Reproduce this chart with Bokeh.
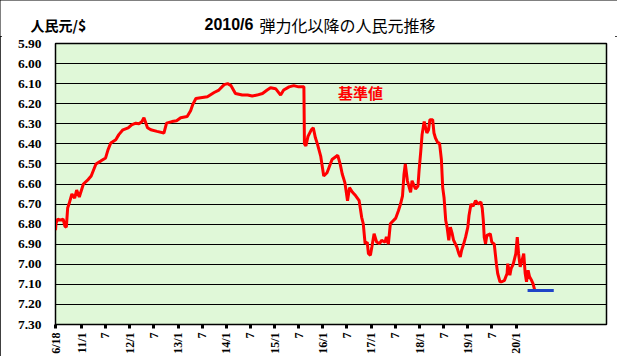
import pandas as pd
from math import pi
from bokeh.plotting import figure
from bokeh.layouts import column
from bokeh.models import Range1d, FixedTicker, Label
from bokeh.embed import file_html
from bokeh.resources import INLINE

# ---- data ----
dates = [
    "2010-06-18", "2010-06-22", "2010-07-05", "2010-07-25", "2010-08-15", "2010-08-28",
    "2010-09-08", "2010-09-18", "2010-09-28", "2010-10-20", "2010-11-10", "2010-11-25",
    "2010-12-15", "2011-01-15", "2011-02-20", "2011-03-15", "2011-04-20", "2011-05-26",
    "2011-07-02", "2011-07-20", "2011-08-10", "2011-09-17", "2011-10-10", "2011-11-10",
    "2011-12-20", "2012-01-15", "2012-02-15", "2012-03-10", "2012-04-01", "2012-04-17",
    "2012-05-14", "2012-06-08", "2012-07-25", "2012-09-15", "2012-10-05", "2012-11-15",
    "2012-12-20", "2013-01-20", "2013-03-10", "2013-04-05", "2013-04-20", "2013-05-15",
    "2013-06-20", "2013-08-10", "2013-09-30", "2013-11-05", "2013-12-15", "2014-01-10",
    "2014-02-05", "2014-03-10", "2014-05-01", "2014-06-10", "2014-07-15", "2014-08-20",
    "2014-10-01", "2014-11-05", "2014-12-01", "2015-01-08", "2015-02-15", "2015-03-10",
    "2015-04-20", "2015-05-25", "2015-07-01", "2015-08-10", "2015-08-14", "2015-08-25",
    "2015-09-10", "2015-10-05", "2015-10-20", "2015-11-05", "2015-11-20", "2015-12-15",
    "2016-01-07", "2016-02-01", "2016-03-10", "2016-04-22", "2016-05-10", "2016-05-26",
    "2016-06-15", "2016-07-05", "2016-07-20", "2016-08-10", "2016-09-05", "2016-10-01",
    "2016-10-20", "2016-11-01", "2016-11-15", "2016-12-01", "2016-12-10", "2016-12-25",
    "2017-01-05", "2017-01-22", "2017-02-10", "2017-03-05", "2017-03-20", "2017-04-15",
    "2017-04-25", "2017-05-10", "2017-05-25", "2017-07-05", "2017-07-25", "2017-08-10",
    "2017-08-25", "2017-09-05", "2017-09-15", "2017-10-01", "2017-10-25", "2017-11-05",
    "2017-12-01", "2017-12-20", "2017-12-28", "2018-01-10", "2018-01-20", "2018-02-05",
    "2018-02-25", "2018-03-10", "2018-03-20", "2018-04-10", "2018-04-20", "2018-05-01",
    "2018-05-20", "2018-06-01", "2018-06-15", "2018-06-25", "2018-07-05", "2018-07-18",
    "2018-07-28", "2018-08-10", "2018-08-22", "2018-09-05", "2018-09-15", "2018-10-10",
    "2018-10-25", "2018-11-05", "2018-11-15", "2018-12-01", "2018-12-15", "2019-01-01",
    "2019-01-10", "2019-01-25", "2019-02-10", "2019-03-01", "2019-03-20", "2019-04-10",
    "2019-04-20", "2019-04-28", "2019-05-05", "2019-05-15", "2019-05-25", "2019-06-20",
    "2019-07-01", "2019-07-20", "2019-08-05", "2019-08-15", "2019-09-01", "2019-09-15",
    "2019-10-05", "2019-10-25", "2019-10-30", "2019-11-15", "2019-11-25", "2019-12-10",
    "2019-12-30", "2020-01-10", "2020-01-20", "2020-02-01", "2020-02-15", "2020-02-28",
    "2020-03-10", "2020-03-20", "2020-04-01", "2020-04-12", "2020-04-27", "2020-05-08",
    "2020-05-21",
]
rates = [
    6.830, 6.795, 6.775, 6.780, 6.775, 6.810,
    6.815, 6.720, 6.700, 6.650, 6.670, 6.630,
    6.665, 6.600, 6.578, 6.560, 6.500, 6.486,
    6.470, 6.430, 6.396, 6.380, 6.354, 6.330,
    6.320, 6.305, 6.297, 6.300, 6.290, 6.270,
    6.320, 6.330, 6.338, 6.346, 6.297, 6.289,
    6.285, 6.270, 6.264, 6.235, 6.206, 6.174,
    6.170, 6.165, 6.144, 6.132, 6.105, 6.100,
    6.110, 6.149, 6.157, 6.157, 6.162, 6.157,
    6.149, 6.132, 6.120, 6.125, 6.157, 6.132,
    6.116, 6.110, 6.116, 6.116, 6.400, 6.410,
    6.363, 6.330, 6.320, 6.370, 6.400, 6.461,
    6.560, 6.544, 6.478, 6.457, 6.500, 6.550,
    6.593, 6.683, 6.618, 6.640, 6.659, 6.683,
    6.766, 6.798, 6.897, 6.890, 6.947, 6.955,
    6.914, 6.848, 6.889, 6.897, 6.880, 6.890,
    6.864, 6.900, 6.798, 6.770, 6.733, 6.700,
    6.659, 6.552, 6.500, 6.584, 6.642, 6.584,
    6.625, 6.610, 6.535, 6.437, 6.354, 6.289,
    6.346, 6.330, 6.280, 6.280, 6.346, 6.371,
    6.396, 6.396, 6.478, 6.618, 6.667, 6.782,
    6.815, 6.880, 6.815, 6.848, 6.880, 6.914,
    6.947, 6.963, 6.930, 6.898, 6.865, 6.815,
    6.757, 6.700, 6.710, 6.683, 6.700, 6.690,
    6.720, 6.780, 6.865, 6.898, 6.856, 6.848,
    6.889, 6.900, 6.997, 7.046, 7.087, 7.087,
    7.080, 7.046, 6.997, 7.054, 7.020, 7.000,
    6.947, 6.865, 6.947, 7.013, 6.980, 6.947,
    7.046, 7.087, 7.030, 7.062, 7.080, 7.096,
    7.129,
]
ref_dates = ["2020-03-28", "2020-10-12"]
ref_rates = [7.13, 7.13]

tick_dates = [
    "2010-06-18", "2011-01-01", "2011-07-01", "2012-01-01", "2012-07-01",
    "2013-01-01", "2013-07-01", "2014-01-01", "2014-07-01", "2015-01-01",
    "2015-07-01", "2016-01-01", "2016-07-01", "2017-01-01", "2017-07-01",
    "2018-01-01", "2018-07-01", "2019-01-01", "2019-07-01", "2020-01-01",
]
tick_labels = [
    "6/18", "11/1", "7", "12/1", "7", "13/1", "7", "14/1", "7", "15/1",
    "7", "16/1", "7", "17/1", "7", "18/1", "7", "19/1", "7", "20/1",
]
y_ticks = [5.90, 6.00, 6.10, 6.20, 6.30, 6.40, 6.50, 6.60, 6.70, 6.80,
           6.90, 7.00, 7.10, 7.20, 7.30]
x_start, x_end = "2010-06-18", "2021-11-15"

title_num = "2010/6"
title_text = "弾力化以降の人民元推移"
unit_text = "人民元/$"
series_text = "基準値"


def ms(d):
    return int(pd.Timestamp(d).timestamp() * 1000)


W = 617
HEAD_H = 36

# ---- header strip (titles) ----
head = figure(
    width=W, height=HEAD_H, output_backend="svg", toolbar_location=None,
    x_range=Range1d(0, W), y_range=Range1d(HEAD_H, 0),
    x_axis_location=None, y_axis_location=None,
    min_border=0, min_border_left=0, min_border_right=0,
    min_border_top=0, min_border_bottom=0,
    background_fill_color="white", border_fill_color="white",
    frame_align=False,
)
head.outline_line_color = None
head.xgrid.visible = False
head.ygrid.visible = False
head.add_layout(Label(x=30, y=24, text=unit_text,
                      text_font="Noto Sans CJK JP", text_font_style="bold",
                      text_font_size="14px", text_baseline="middle", text_align="left",
                      text_color="black"))
head.add_layout(Label(x=204, y=24, text=title_num,
                      text_font="Liberation Sans", text_font_style="bold",
                      text_font_size="16px", text_baseline="middle", text_align="left",
                      text_color="black"))
head.add_layout(Label(x=259, y=24, text=title_text,
                      text_font="Noto Sans CJK JP", text_font_size="16px",
                      text_baseline="middle", text_align="left", text_color="black"))

# ---- main chart ----
p = figure(
    width=W, height=356 - HEAD_H, output_backend="svg", toolbar_location=None,
    x_axis_type="datetime",
    x_range=Range1d(ms(x_start), ms(x_end)),
    y_range=Range1d(7.30, 5.90),
    min_border_left=55, min_border_right=11, min_border_top=7, min_border_bottom=31,
    background_fill_color="#e0f8d8", border_fill_color="white",
    frame_align=False,
)
p.outline_line_color = "black"
p.outline_line_width = 1.5

p.xgrid.visible = False
p.ygrid.ticker = FixedTicker(ticks=y_ticks)
p.ygrid.grid_line_color = "black"
p.ygrid.grid_line_width = 1.2

yax = p.yaxis[0]
yax.ticker = FixedTicker(ticks=y_ticks)
yax.major_label_overrides = {t: f"{t:.2f}" for t in y_ticks}
yax.major_tick_out = 0
yax.major_tick_in = 0
yax.minor_tick_out = 0
yax.minor_tick_in = 0
yax.axis_line_color = "black"
yax.major_label_standoff = 14
yax.major_label_text_font = "Liberation Serif"
yax.major_label_text_font_style = "bold"
yax.major_label_text_font_size = "13.5px"
yax.major_label_text_color = "black"

tick_ms = [ms(d) for d in tick_dates]
xax = p.xaxis[0]
xax.ticker = FixedTicker(ticks=tick_ms)
xax.major_label_overrides = {t: lab for t, lab in zip(tick_ms, tick_labels)}
xax.major_label_orientation = pi / 2
xax.major_tick_out = 4
xax.major_tick_in = 0
xax.major_tick_line_width = 3
xax.minor_tick_out = 0
xax.minor_tick_in = 0
xax.axis_line_color = "black"
xax.major_label_standoff = 4
xax.major_label_text_font = "Liberation Serif"
xax.major_label_text_font_style = "bold"
xax.major_label_text_font_size = "12px"
xax.major_label_text_color = "black"

p.line(x=pd.to_datetime(dates), y=rates, line_color="#ff0000", line_width=3)
p.line(x=pd.to_datetime(ref_dates), y=ref_rates, line_color="#1f45c8", line_width=3)

p.add_layout(Label(x=ms("2016-10-12"), y=6.146, text=series_text,
                   text_font="Noto Sans CJK JP", text_font_style="bold",
                   text_font_size="15px", text_baseline="middle", text_align="center",
                   text_color="#ff0000"))

layout = column(head, p, spacing=0,
                styles={"outline": "2px solid black", "outline-offset": "-2px"})

open("out.html", "w").write(file_html(layout, INLINE))
